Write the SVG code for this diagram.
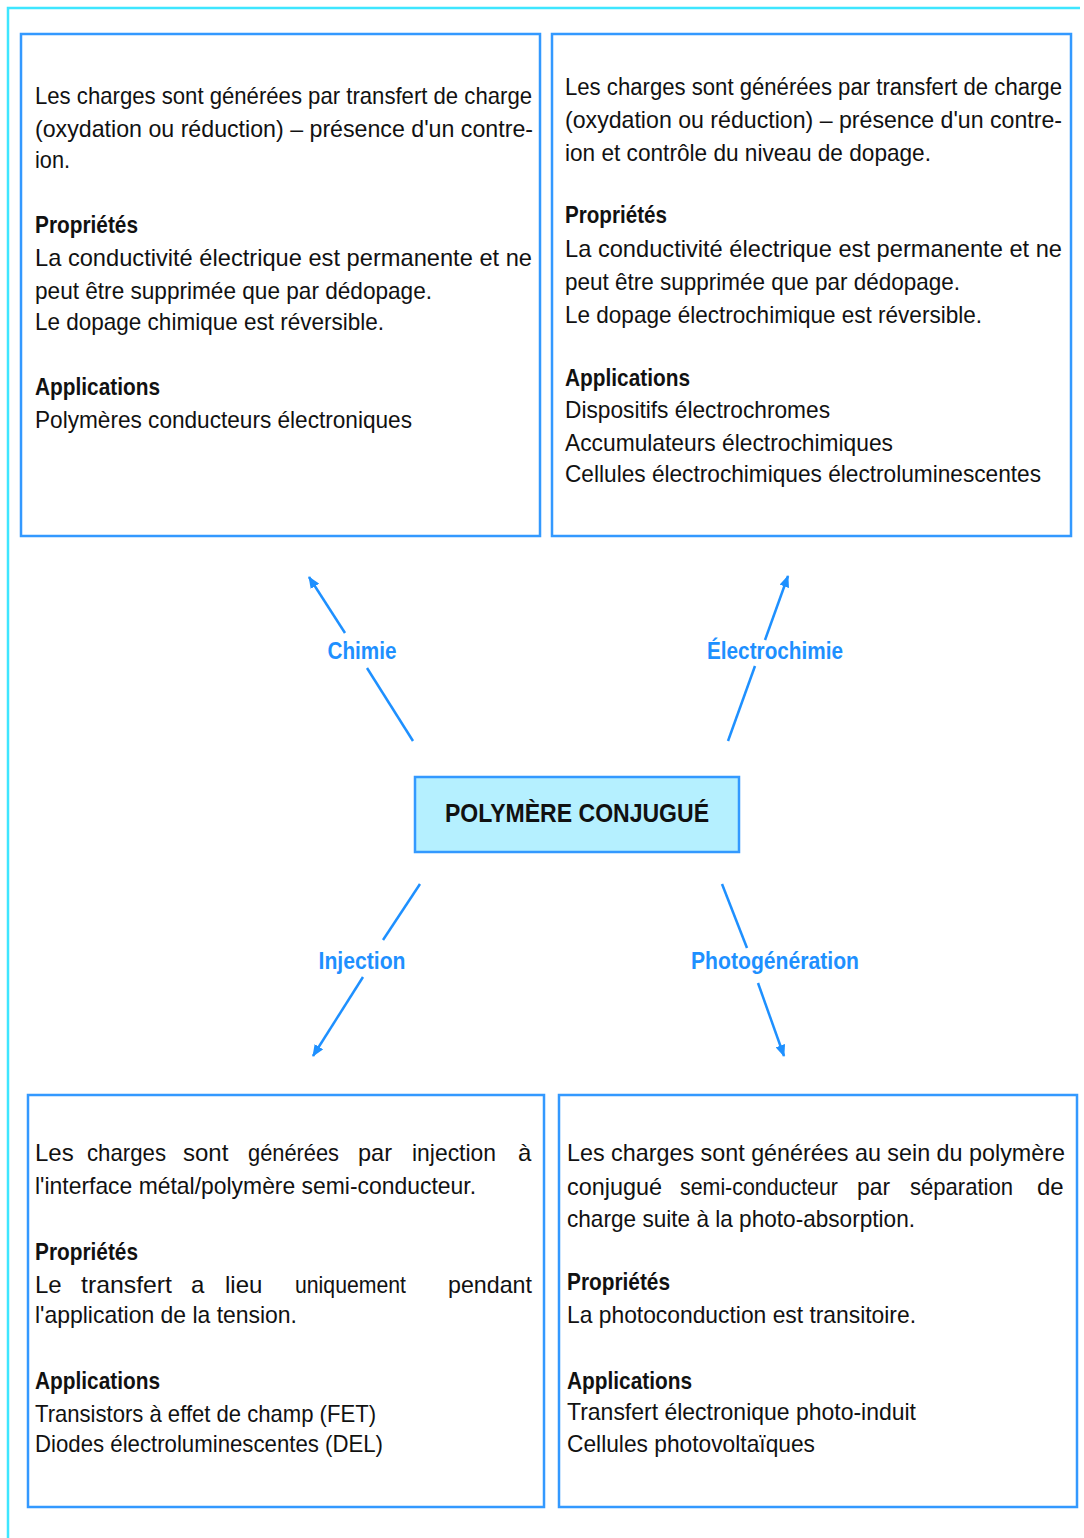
<svg xmlns="http://www.w3.org/2000/svg" width="1084" height="1538" viewBox="0 0 1084 1538">
<defs>
<style>
.box{fill:#ffffff;stroke:#3399ff;stroke-width:2.5}
.center{fill:#b5f0ff;stroke:#3399ff;stroke-width:2.5}
.frame{fill:none;stroke:#3ee6ff;stroke-width:2.5}
.t{font-family:"Liberation Sans",Arial,sans-serif;font-size:24px;fill:#111111}
.s{font-size:23px}
.b{font-family:"Liberation Sans",Arial,sans-serif;font-size:24px;font-weight:bold;fill:#111111}
.lbl{font-family:"Liberation Sans",Arial,sans-serif;font-size:24px;font-weight:bold;fill:#1e90ff}
.ct{font-family:"Liberation Sans",Arial,sans-serif;font-size:25px;font-weight:bold;fill:#111111}
.conn{fill:none;stroke:#1e90ff;stroke-width:2.5}
</style>
<marker id="ah" viewBox="0 0 12 10" refX="11" refY="5" markerWidth="12" markerHeight="10" markerUnits="userSpaceOnUse" orient="auto">
<path d="M0,0 L12,5 L0,10 Z" fill="#1e90ff"/>
</marker>
</defs>
<rect width="1084" height="1538" fill="#ffffff"/>
<path class="frame" d="M1080,8 H8 V1538"/>

<g id="node-chimie">
<rect class="box" x="21" y="34" width="519" height="502"/>
<text class="t" x="35" y="104" textLength="497" lengthAdjust="spacingAndGlyphs">Les charges sont générées par transfert de charge</text>
<text class="t" x="35" y="137" textLength="498" lengthAdjust="spacingAndGlyphs">(oxydation ou réduction) – présence d'un contre-</text>
<text class="t" x="35" y="168" textLength="35" lengthAdjust="spacingAndGlyphs">ion.</text>
<text class="b" x="35" y="233" textLength="103" lengthAdjust="spacingAndGlyphs">Propriétés</text>
<text class="t" x="35" y="266" textLength="497" lengthAdjust="spacingAndGlyphs">La conductivité électrique est permanente et ne</text>
<text class="t" x="35" y="299" textLength="397" lengthAdjust="spacingAndGlyphs">peut être supprimée que par dédopage.</text>
<text class="t" x="35" y="330" textLength="349" lengthAdjust="spacingAndGlyphs">Le dopage chimique est réversible.</text>
<text class="b" x="35" y="395" textLength="125" lengthAdjust="spacingAndGlyphs">Applications</text>
<text class="t" x="35" y="428" textLength="377" lengthAdjust="spacingAndGlyphs">Polymères conducteurs électroniques</text>
</g>

<g id="node-electrochimie">
<rect class="box" x="552" y="34" width="519" height="502"/>
<text class="t s" x="565" y="95" textLength="497" lengthAdjust="spacingAndGlyphs">Les charges sont générées par transfert de charge</text>
<text class="t" x="565" y="128" textLength="497" lengthAdjust="spacingAndGlyphs">(oxydation ou réduction) – présence d'un contre-</text>
<text class="t" x="565" y="161" textLength="366" lengthAdjust="spacingAndGlyphs">ion et contrôle du niveau de dopage.</text>
<text class="b" x="565" y="223" textLength="102" lengthAdjust="spacingAndGlyphs">Propriétés</text>
<text class="t" x="565" y="257" textLength="497" lengthAdjust="spacingAndGlyphs">La conductivité électrique est permanente et ne</text>
<text class="t" x="565" y="290" textLength="395" lengthAdjust="spacingAndGlyphs">peut être supprimée que par dédopage.</text>
<text class="t" x="565" y="323" textLength="417" lengthAdjust="spacingAndGlyphs">Le dopage électrochimique est réversible.</text>
<text class="b" x="565" y="386" textLength="125" lengthAdjust="spacingAndGlyphs">Applications</text>
<text class="t" x="565" y="418" textLength="265" lengthAdjust="spacingAndGlyphs">Dispositifs électrochromes</text>
<text class="t" x="565" y="451" textLength="328" lengthAdjust="spacingAndGlyphs">Accumulateurs électrochimiques</text>
<text class="t" x="565" y="482" textLength="476" lengthAdjust="spacingAndGlyphs">Cellules électrochimiques électroluminescentes</text>
</g>

<g id="node-polymere">
<rect class="center" x="415" y="777" width="324" height="75"/>
<text class="ct" x="577" y="822" text-anchor="middle" textLength="264" lengthAdjust="spacingAndGlyphs">POLYMÈRE CONJUGUÉ</text>
</g>

<g id="node-injection">
<rect class="box" x="28" y="1095" width="516" height="412"/>
<text class="t" x="35" y="1161">Les</text>
<text class="t" x="87" y="1161" textLength="79" lengthAdjust="spacingAndGlyphs">charges</text>
<text class="t" x="183" y="1161">sont</text>
<text class="t" x="248" y="1161" textLength="91" lengthAdjust="spacingAndGlyphs">générées</text>
<text class="t" x="358" y="1161" textLength="34" lengthAdjust="spacingAndGlyphs">par</text>
<text class="t" x="412" y="1161" textLength="84" lengthAdjust="spacingAndGlyphs">injection</text>
<text class="t" x="518" y="1161">à</text>
<text class="t" x="35" y="1194" textLength="441" lengthAdjust="spacingAndGlyphs">l'interface métal/polymère semi-conducteur.</text>
<text class="b" x="35" y="1260" textLength="103" lengthAdjust="spacingAndGlyphs">Propriétés</text>
<text class="t" x="35" y="1293">Le</text>
<text class="t" x="81" y="1293" textLength="91" lengthAdjust="spacingAndGlyphs">transfert</text>
<text class="t" x="191" y="1293">a</text>
<text class="t" x="225" y="1293">lieu</text>
<text class="t" x="295" y="1293" textLength="111" lengthAdjust="spacingAndGlyphs">uniquement</text>
<text class="t" x="448" y="1293" textLength="84" lengthAdjust="spacingAndGlyphs">pendant</text>
<text class="t" x="35" y="1323" textLength="262" lengthAdjust="spacingAndGlyphs">l'application de la tension.</text>
<text class="b" x="35" y="1389" textLength="125" lengthAdjust="spacingAndGlyphs">Applications</text>
<text class="t" x="35" y="1422" textLength="341" lengthAdjust="spacingAndGlyphs">Transistors à effet de champ (FET)</text>
<text class="t" x="35" y="1452" textLength="348" lengthAdjust="spacingAndGlyphs">Diodes électroluminescentes (DEL)</text>
</g>

<g id="node-photogeneration">
<rect class="box" x="559" y="1095" width="518" height="412"/>
<text class="t" x="567" y="1161" textLength="498" lengthAdjust="spacingAndGlyphs">Les charges sont générées au sein du polymère</text>
<text class="t" x="567" y="1195" textLength="95" lengthAdjust="spacingAndGlyphs">conjugué</text>
<text class="t" x="680" y="1195" textLength="158" lengthAdjust="spacingAndGlyphs">semi-conducteur</text>
<text class="t" x="857" y="1195" textLength="33" lengthAdjust="spacingAndGlyphs">par</text>
<text class="t" x="910" y="1195" textLength="103" lengthAdjust="spacingAndGlyphs">séparation</text>
<text class="t" x="1037" y="1195">de</text>
<text class="t" x="567" y="1227" textLength="348" lengthAdjust="spacingAndGlyphs">charge suite à la photo-absorption.</text>
<text class="b" x="567" y="1290" textLength="103" lengthAdjust="spacingAndGlyphs">Propriétés</text>
<text class="t" x="567" y="1323" textLength="349" lengthAdjust="spacingAndGlyphs">La photoconduction est transitoire.</text>
<text class="b" x="567" y="1389" textLength="125" lengthAdjust="spacingAndGlyphs">Applications</text>
<text class="t" x="567" y="1420" textLength="349" lengthAdjust="spacingAndGlyphs">Transfert électronique photo-induit</text>
<text class="t" x="567" y="1452" textLength="248" lengthAdjust="spacingAndGlyphs">Cellules photovoltaïques</text>
</g>

<g id="connectors">
<path class="conn" d="M413,741 L367,668"/>
<path class="conn" d="M345,633 L309,577" marker-end="url(#ah)"/>
<text class="lbl" x="362" y="659" text-anchor="middle" textLength="69" lengthAdjust="spacingAndGlyphs">Chimie</text>

<path class="conn" d="M728,741 L755,666"/>
<path class="conn" d="M765,640 L788,576" marker-end="url(#ah)"/>
<text class="lbl" x="775" y="659" text-anchor="middle" textLength="136" lengthAdjust="spacingAndGlyphs">Électrochimie</text>

<path class="conn" d="M420,884 L383,940"/>
<path class="conn" d="M363,977 L313,1056" marker-end="url(#ah)"/>
<text class="lbl" x="362" y="969" text-anchor="middle" textLength="87" lengthAdjust="spacingAndGlyphs">Injection</text>

<path class="conn" d="M722,884 L747,948"/>
<path class="conn" d="M758,983 L784,1056" marker-end="url(#ah)"/>
<text class="lbl" x="775" y="969" text-anchor="middle" textLength="168" lengthAdjust="spacingAndGlyphs">Photogénération</text>
</g>
</svg>
